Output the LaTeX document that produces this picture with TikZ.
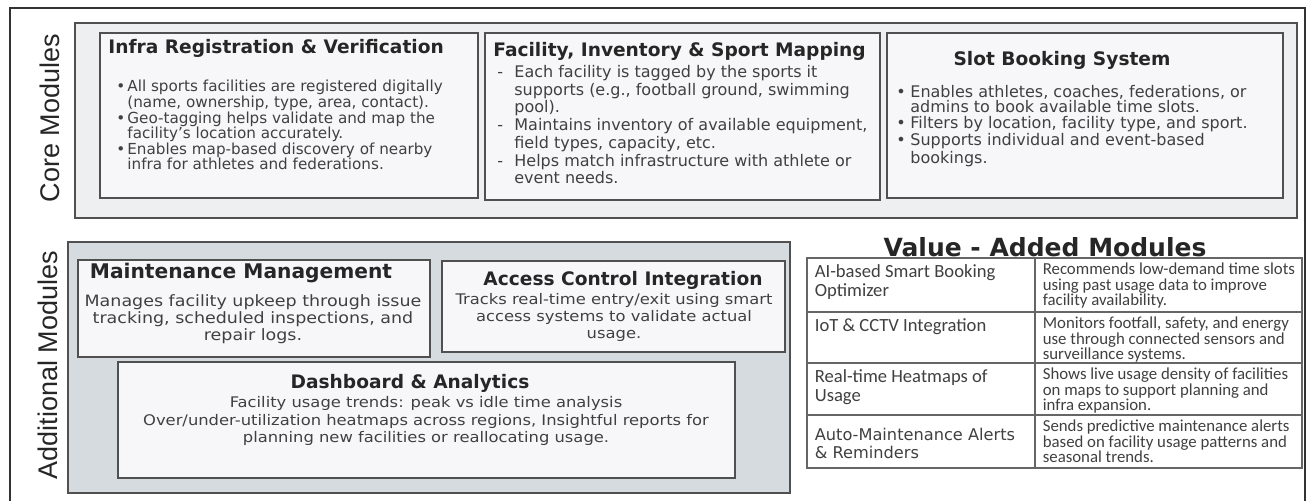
\documentclass[tikz,border=0pt]{standalone}
\usepackage{fontspec}
\setmainfont{DejaVu Sans}
\newfontfamily\labelfont{Liberation Sans}
\newfontfamily\cellfont{Carlito}
\newfontfamily\widefont{DejaVu Sans}[FakeStretch=1.12]
\usetikzlibrary{fit,positioning}
\definecolor{panelgray}{HTML}{EEEFF1}
\definecolor{boxwhite}{HTML}{F7F7F9}
\definecolor{addgray}{HTML}{D6DBE0}
\definecolor{linegray}{HTML}{505050}
\tikzstyle{frame} = [draw=black!80,line width=0.9pt]
\tikzstyle{panel} = [draw=linegray,line width=0.7pt,inner sep=0pt]
\newcommand{\itemdot}[1]{\makebox[#1][l]{\textbullet}}
\newcommand{\itemdash}[1]{\makebox[#1][l]{-}}

\begin{document}
\begin{tikzpicture}
[x=0.5pt,y=-0.5pt,
modbox/.style={draw=linegray,line width=0.8pt,fill=boxwhite,inner sep=0pt},
boxtitle/.style={font=\bfseries\fontsize{9.3}{11}\selectfont,inner sep=0pt,text=black!85},
boxbody/.style={font=\fontsize{7.6}{7.8}\selectfont,align=left,inner sep=0pt,text=black!75},
centerbody/.style={boxbody,align=center},
sidelabel/.style={font=\labelfont\fontsize{13.5}{15}\selectfont,rotate=90,inner sep=0pt,text=black!85},
cell/.style={draw=black!60,line width=0.6pt,fill=white,inner sep=0pt},
feat/.style={font=\cellfont\fontsize{9.3}{9.6}\selectfont,align=left,inner sep=0pt,text=black!75},
featwide/.style={font=\fontsize{8.1}{9}\selectfont,align=left,inner sep=0pt,text=black!75},
detail/.style={font=\cellfont\fontsize{8.4}{7.8}\selectfont,align=left,inner sep=0pt,text=black!75}]

\useasboundingbox (0,0) rectangle (1309,501);

%% page frame
\draw[frame] (10,501) -- (10,8) -- (1305,8) -- (1305,501);

%% panels
\node[panel,fill=panelgray,fit={(75,23) (1297,218)}] (core) {};
\node[panel,fill=addgray,fit={(68,242) (790,493)}] (additional) {};

\node[sidelabel] (corelabel) at (50,118) {Core Modules};
\node[sidelabel] (addlabel) at (48,365) {Additional Modules};

%% core modules
\node[modbox,fit={(100,33) (478,198)}] (infra) {};
\node[modbox,fit={(485,33) (880,200)}] (mapping) {};
\node[modbox,fit={(887,33) (1283,198)}] (booking) {};

\node[boxtitle,anchor=west] (infratitle) at (108,48) {Infra Registration \& Verification};
\node[boxbody,anchor=north west] (infrabody) at (116,80) {%
\itemdot{5.5pt}All sports facilities are registered digitally\\
\hspace*{5.5pt}(name, ownership, type, area, contact).\\
\itemdot{5.5pt}Geo-tagging helps validate and map the\\
\hspace*{5.5pt}facility's location accurately.\\
\itemdot{5.5pt}Enables map-based discovery of nearby\\
\hspace*{5.5pt}infra for athletes and federations.};

\node[boxtitle,anchor=west] (mappingtitle) at (493,51) {Facility, Inventory \& Sport Mapping};
\node[boxbody,anchor=north west,font=\fontsize{8}{8.85}\selectfont] (mappingbody) at (497,65) {%
\itemdash{8.5pt}Each facility is tagged by the sports it\\
\hspace*{8.5pt}supports (e.g., football ground, swimming\\
\hspace*{8.5pt}pool).\\
\itemdash{8.5pt}Maintains inventory of available equipment,\\
\hspace*{8.5pt}field types, capacity, etc.\\
\itemdash{8.5pt}Helps match infrastructure with athlete or\\
\hspace*{8.5pt}event needs.};

\node[boxtitle] (bookingtitle) at (1062,60) {Slot Booking System};
\node[boxbody,anchor=north west,font=\fontsize{8}{7.7}\selectfont] (bookingbody) at (896,85) {%
\itemdot{7pt}Enables athletes, coaches, federations, or\\
\hspace*{7pt}admins to book available time slots.\\
\itemdot{7pt}Filters by location, facility type, and sport.\\
\itemdot{7pt}Supports individual and event-based\\
\hspace*{7pt}bookings.};

%% additional modules
\node[modbox,fit={(78,260) (430,357)}] (maintenance) {};
\node[modbox,fit={(442,261) (785,352)}] (access) {};
\node[modbox,fit={(118,362) (735,478)}] (dashboard) {};

\node[boxtitle,font=\bfseries\fontsize{10.1}{11}\selectfont] (maintenancetitle) at (241,273) {Maintenance Management};
\node[centerbody,anchor=north,font=\widefont\fontsize{7.8}{6.8}\selectfont] (maintenancebody) at (253,294) {%
Manages facility upkeep through issue\\
tracking, scheduled inspections, and\\
repair logs.};

\node[boxtitle] (accesstitle) at (623,280) {Access Control Integration};
\node[centerbody,anchor=north,font=\widefont\fontsize{7.3}{8.6}\selectfont] (accessbody) at (614,293) {%
Tracks real-time entry/exit using smart\\
access systems to validate actual\\
usage.};

\node[boxtitle] (dashboardtitle) at (410,383) {Dashboard \& Analytics};
\node[centerbody,anchor=north,font=\widefont\fontsize{7.3}{8.8}\selectfont] (dashboardbody) at (426,396) {%
Facility usage trends: peak vs idle time analysis\\
Over/under-utilization heatmaps across regions, Insightful reports for\\
planning new facilities or reallocating usage.};

%% value added modules
\node[font=\bfseries\fontsize{12.5}{14}\selectfont,inner sep=0pt,text=black!85] (valuetitle) at (1045,247) {Value - Added Modules};

\foreach \rowname/\ytop/\ybot/\featstyle/\featshift/\feature/\info in {
optimizer/258/312/feat/3.5/{AI-based Smart Booking\\Optimizer}/{Recommends low-demand time slots\\using past usage data to improve\\facility availability.},
cctv/312/363/feat/3.5/{IoT \& CCTV Integration}/{Monitors footfall, safety, and energy\\use through connected sensors and\\surveillance systems.},
heatmaps/363/415/feat/3.5/{Real-time Heatmaps of\\Usage}/{Shows live usage density of facilities\\on maps to support planning and\\infra expansion.},
alerts/415/468/featwide/6.5/{Auto-Maintenance Alerts\\\& Reminders}/{Sends predictive maintenance alerts\\based on facility usage patterns and\\seasonal trends.}}
{
\node[cell,fit={(807,\ytop) (1035,\ybot)}] (\rowname-left) {};
\node[cell,fit={(1035,\ytop) (1302,\ybot)}] (\rowname-right) {};
\node[\featstyle,anchor=north west] at ([xshift=4pt,yshift=-\featshift pt]\rowname-left.north west) {\feature};
\node[detail,anchor=north west] at ([xshift=4pt,yshift=-2.5pt]\rowname-right.north west) {\info};
}

\end{tikzpicture}
\end{document}
